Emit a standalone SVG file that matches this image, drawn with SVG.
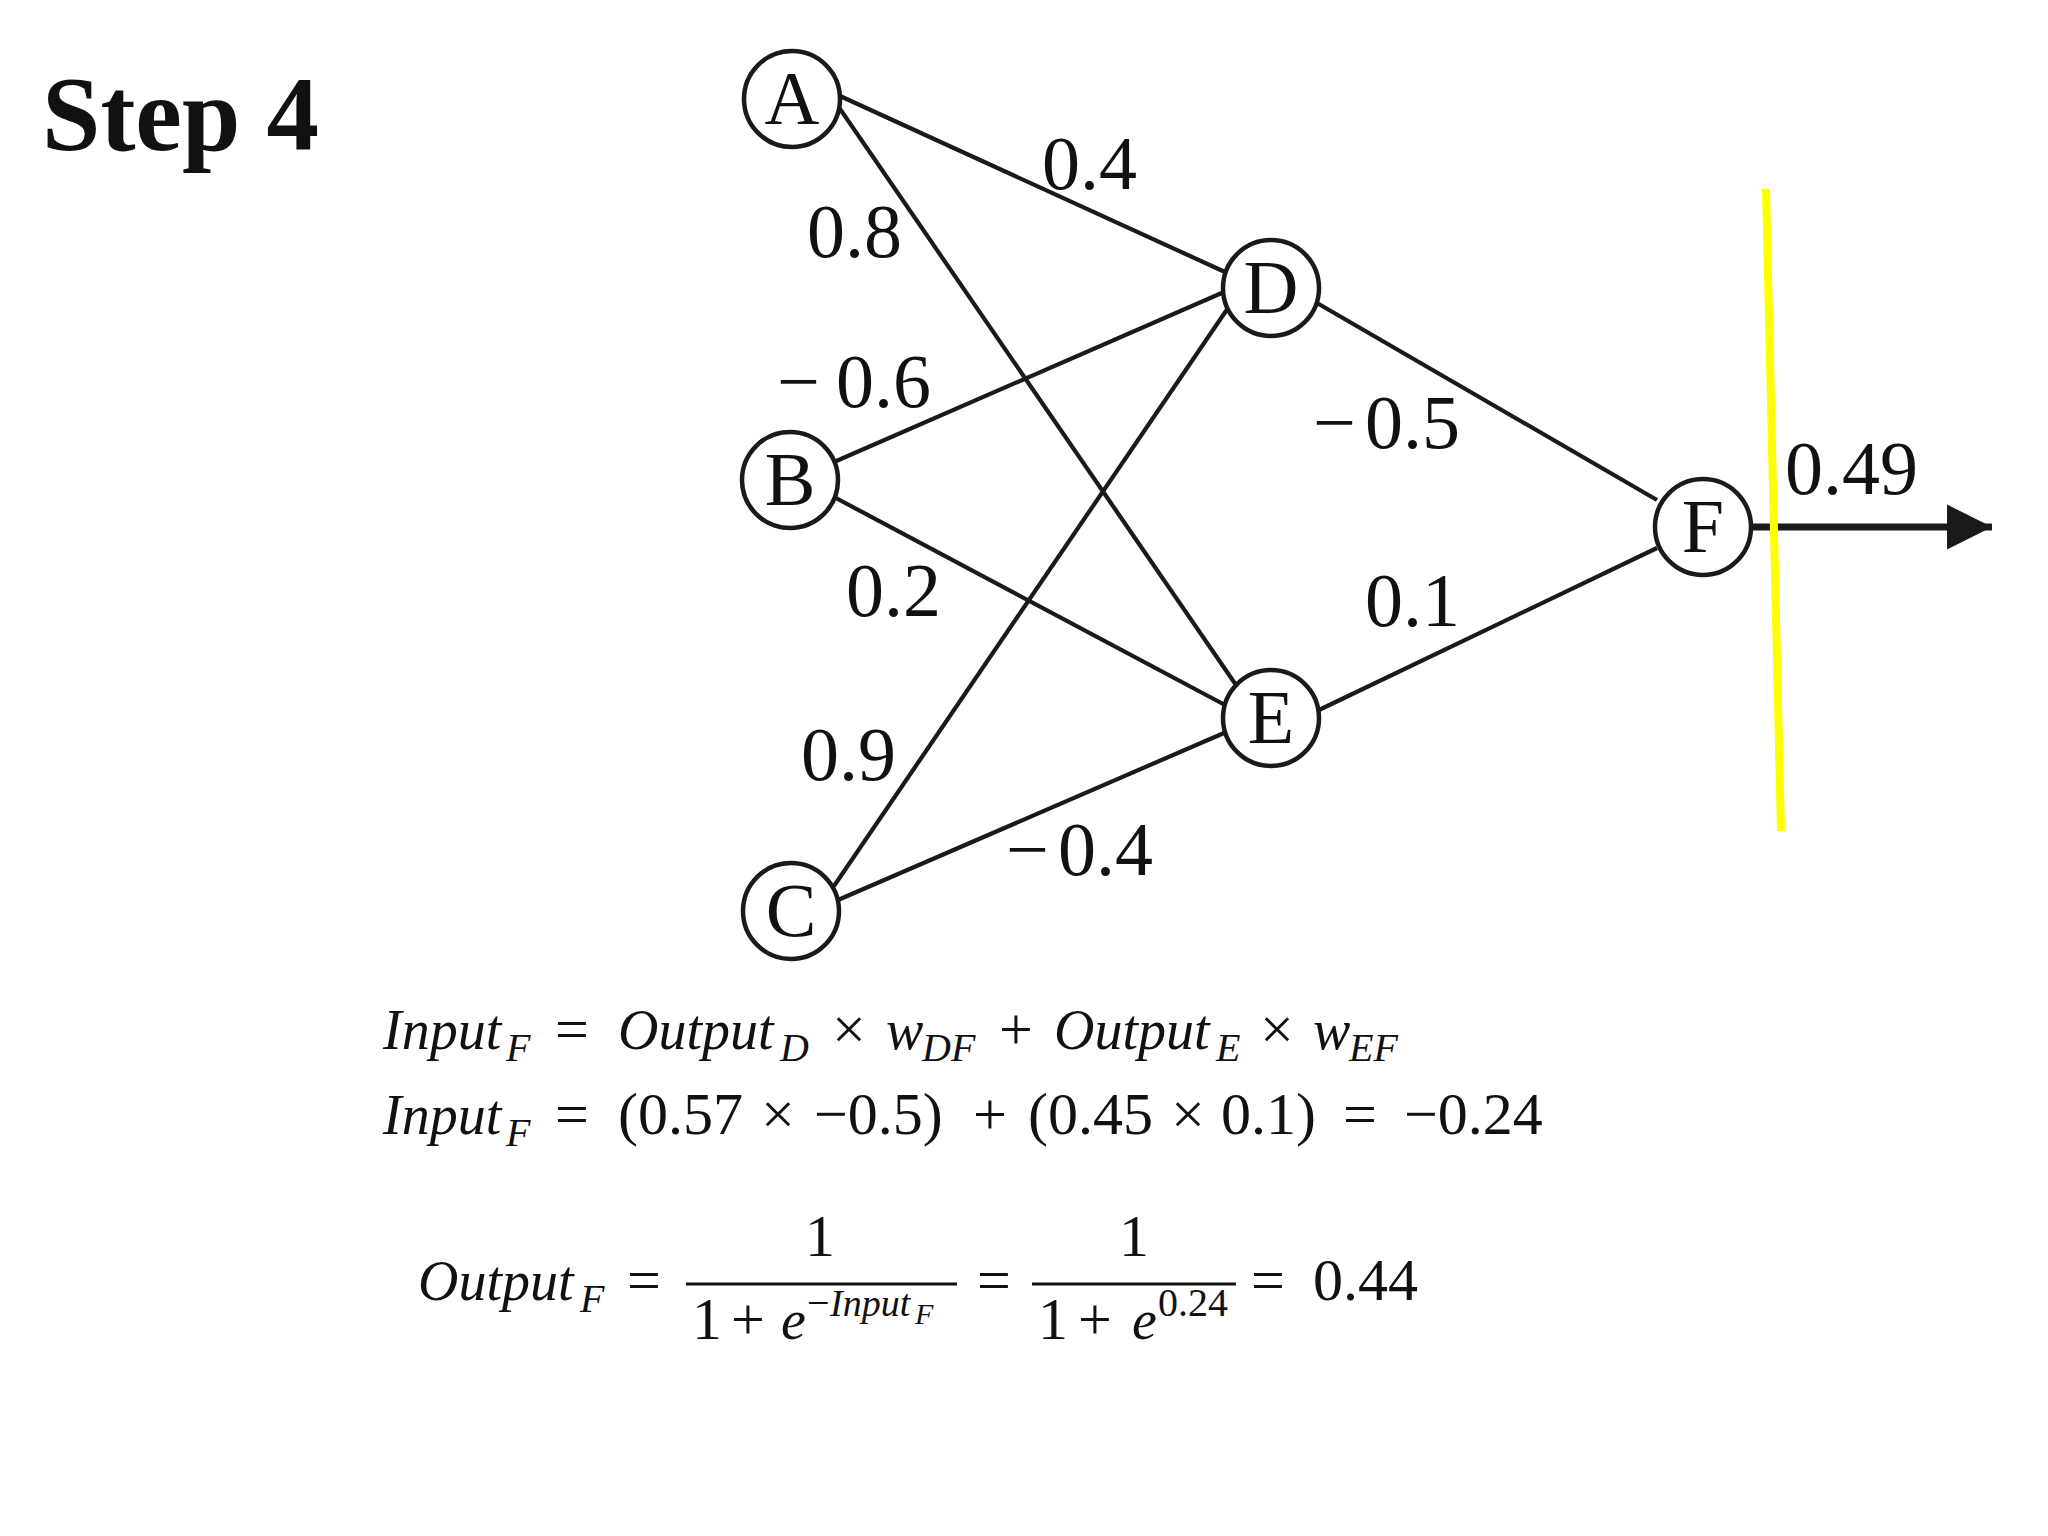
<svg xmlns="http://www.w3.org/2000/svg" width="2048" height="1536" viewBox="0 0 2048 1536">
<defs>
<style>
.node circle{fill:#fff;stroke:#1a1a1a;stroke-width:4.5}
.node text{font-family:"Liberation Serif","Times New Roman",serif;font-size:76px;fill:#111;text-anchor:middle}
.edges line{stroke:#1a1a1a;stroke-width:4.2}
.lbl{font-family:"Liberation Serif","Times New Roman",serif;font-size:76px;fill:#111}
.eq{font-family:"Liberation Serif","Times New Roman",serif;font-size:60px;fill:#111}
.it{font-style:italic;font-size:56px}
.sub{font-size:40px;font-style:italic}
.sup{font-size:40px}
.supi{font-size:38px;font-style:italic}
.ss{font-size:30px;font-style:italic}
</style>
<marker id="arr" viewBox="0 0 10 10" refX="10" refY="5" markerWidth="6.5" markerHeight="7" orient="auto" markerUnits="strokeWidth">
<path d="M0,0 L10,5 L0,10 Z" fill="#1a1a1a"/>
</marker>
</defs>
<rect width="2048" height="1536" fill="#fff"/>
<text x="42" y="150" font-family="Liberation Serif,'Times New Roman',serif" font-weight="bold" font-size="105" fill="#111">Step 4</text>
<g class="edges" id="connectors">
<line x1="840" y1="96" x2="1225" y2="272"/>
<line x1="838" y1="106" x2="1236" y2="685"/>
<line x1="834" y1="462" x2="1224" y2="292"/>
<line x1="834" y1="497" x2="1225" y2="705"/>
<line x1="834" y1="886" x2="1228" y2="308"/>
<line x1="838" y1="900" x2="1224" y2="733"/>
<line x1="1317" y1="303" x2="1657" y2="500"/>
<line x1="1319" y1="710" x2="1657" y2="548"/>
<line x1="1751" y1="527" x2="1992" y2="527" style="stroke-width:7" marker-end="url(#arr)"/>
</g>
<g id="labels" class="lbl">
<text x="1042" y="189">0.4</text>
<text x="807" y="257">0.8</text>
<text x="777" y="407">−<tspan x="836">0.6</tspan></text>
<text x="846" y="616">0.2</text>
<text x="801" y="780">0.9</text>
<text x="1006" y="875">−<tspan x="1058">0.4</tspan></text>
<text x="1313" y="448">−<tspan x="1365">0.5</tspan></text>
<text x="1365" y="626">0.1</text>
<text x="1785" y="494">0.49</text>
</g>
<g id="A" class="node"><circle cx="792" cy="99" r="48"/><text x="792" y="124">A</text></g>
<g id="B" class="node"><circle cx="790" cy="480" r="48"/><text x="790" y="505">B</text></g>
<g id="C" class="node"><circle cx="791" cy="911" r="48"/><text x="791" y="936">C</text></g>
<g id="D" class="node"><circle cx="1271" cy="288" r="48"/><text x="1271" y="313">D</text></g>
<g id="E" class="node"><circle cx="1271" cy="718" r="48"/><text x="1271" y="743">E</text></g>
<g id="F" class="node"><circle cx="1703" cy="527" r="48"/><text x="1703" y="552">F</text></g>
<line x1="1766" y1="189" x2="1781" y2="831" stroke="#ffff00" stroke-width="8"/>
<g id="equations" class="eq">
<text y="1049"><tspan class="it" x="383">Input</tspan><tspan class="sub" x="506" dy="12">F</tspan><tspan x="555" dy="-12">=</tspan><tspan class="it" x="618">Output</tspan><tspan class="sub" x="780" dy="12">D</tspan><tspan x="832" dy="-12">×</tspan><tspan class="it" x="886">w</tspan><tspan class="sub" x="922" dy="12">DF</tspan><tspan x="999" dy="-12">+</tspan><tspan class="it" x="1054">Output</tspan><tspan class="sub" x="1216" dy="12">E</tspan><tspan x="1260" dy="-12">×</tspan><tspan class="it" x="1313">w</tspan><tspan class="sub" x="1349" dy="12">EF</tspan></text>
<text y="1134"><tspan class="it" x="383">Input</tspan><tspan class="sub" x="506" dy="12">F</tspan><tspan x="555" dy="-12">=</tspan><tspan x="618">(0.57</tspan><tspan x="761">×</tspan><tspan x="814">−0.5)</tspan><tspan x="973">+</tspan><tspan x="1028">(0.45</tspan><tspan x="1171">×</tspan><tspan x="1221">0.1)</tspan><tspan x="1343">=</tspan><tspan x="1404">−0.24</tspan></text>
<text y="1300"><tspan class="it" x="418">Output</tspan><tspan class="sub" x="580" dy="12">F</tspan><tspan x="627" dy="-12">=</tspan><tspan x="977">=</tspan><tspan x="1251">=</tspan><tspan x="1313">0.44</tspan></text>
<line x1="686" y1="1284" x2="957" y2="1284" stroke="#111" stroke-width="3"/>
<text x="820" y="1256" text-anchor="middle">1</text>
<text y="1339"><tspan x="692">1</tspan><tspan x="731">+</tspan><tspan class="it" x="781">e</tspan><tspan class="sup" x="807" dy="-23">−</tspan><tspan class="supi" x="830">Input</tspan><tspan class="ss" x="915" dy="8">F</tspan></text>
<line x1="1032" y1="1284" x2="1236" y2="1284" stroke="#111" stroke-width="3"/>
<text x="1134" y="1256" text-anchor="middle">1</text>
<text y="1339"><tspan x="1038">1</tspan><tspan x="1078">+</tspan><tspan class="it" x="1132">e</tspan><tspan class="sup" x="1158" dy="-23">0.24</tspan></text>
</g>
</svg>
